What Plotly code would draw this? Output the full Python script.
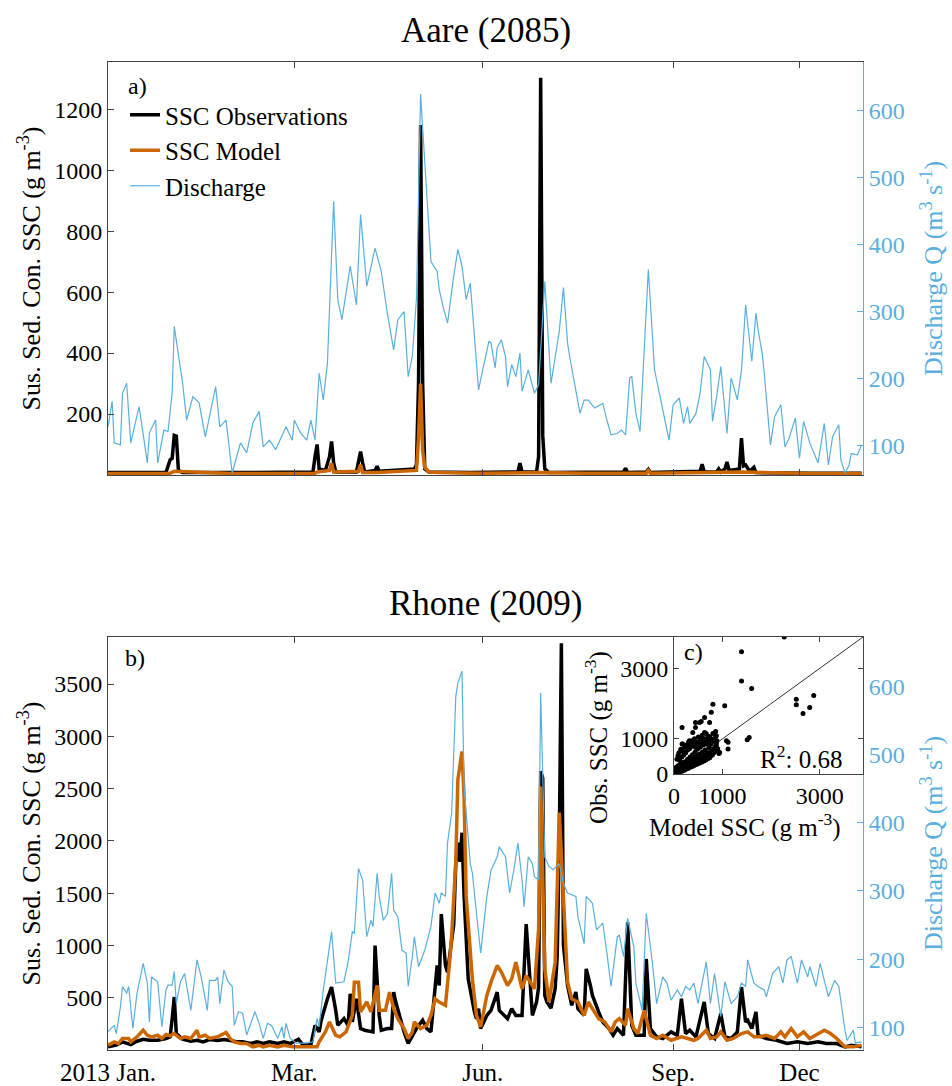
import pandas as pd
import plotly.graph_objects as go

BASE = pd.Timestamp("2013-01-01")

# ---------------- Aare (2085) ----------------
aare_q_day = [0,2,3,6,7,9,11,15,16,19,20,23,24,27,29,31,32,34,36,38,41,44,47,52,54,57,60,64,67,70,73,75,78,81,86,89,90,93,96,98,100,102,104,106,109,111,113,117,120,122,125,129,132,135,138,140,143,145,147,149,151,154,156,159,160,162,164,167,169,171,173,175,177,179,181,184,185,187,188,190,192,193,195,197,199,200,203,206,208,211,214,218,220,222,223,225,228,230,232,235,239,241,243,246,248,250,252,253,255,257,261,264,267,271,273,276,278,280,281,284,286,288,291,292,294,296,299,301,304,306,308,311,313,314,316,317,320,322,325,327,329,332,334,336,339,343,346,348,350,353,354,356,358,359,362,364]
aare_q_val = [128,166,104,101,178,193,104,158,138,74,119,138,74,123,121,179,278,238,194,138,173,164,113,188,128,138,59,104,89,134,151,98,108,94,128,108,138,119,108,138,108,208,168,223,465,318,288,368,310,445,338,395,360,296,243,288,300,203,233,320,625,474,375,360,333,306,283,353,393,368,318,343,268,183,213,256,253,216,246,258,233,188,221,203,238,181,213,178,191,345,193,271,336,253,233,198,148,168,168,156,163,138,116,118,123,116,201,203,148,121,363,213,168,108,161,171,133,158,133,148,178,233,213,136,173,218,118,201,168,213,310,226,298,273,238,208,101,143,161,98,111,141,81,136,104,74,133,71,113,131,79,59,71,88,86,101]

aare_obs_day = [0,28,30,31,32,33,34,36,60,99,100,101,102,105,107,108,109,110,120,121,122,123,124,129,130,131,148,149,150,151,152,153,155,175,198,199,200,207,208,209,210,211,213,249,250,251,260,261,262,286,287,288,294,295,296,298,299,300,305,306,307,308,310,312,313,340,364]
aare_obs_val = [8,8,50,55,130,128,15,8,8,10,60,100,20,15,60,110,40,10,10,40,77,40,10,15,29,12,20,34,300,1148,300,20,10,8,10,39,10,10,60,1303,130,20,8,10,22,8,10,18,8,12,35,10,10,20,10,20,43,15,20,121,30,33,12,25,8,6,6]

aare_mod_day = [0,30,32,60,100,101,107,108,109,121,122,123,130,149,150,151,152,153,155,160,180,209,210,230,260,261,262,306,340,364]
aare_mod_val = [5,6,12,5,6,10,15,39,10,12,34,8,8,15,120,300,80,25,10,8,6,10,8,6,6,15,6,10,5,5]

# ---------------- Rhone (2009) ----------------
rhone_q_day = [0,3,4,6,7,9,10,12,14,17,19,20,21,23,24,26,28,29,31,32,33,35,37,40,43,45,48,49,52,53,54,56,58,60,61,63,65,67,69,71,73,75,77,79,82,84,85,86,88,91,96,99,101,102,104,106,108,110,114,116,118,119,121,123,125,127,128,130,131,133,135,137,138,140,142,144,145,147,148,150,153,156,158,160,161,163,164,166,168,169,171,172,175,176,178,180,183,185,188,189,192,194,196,198,200,201,203,205,206,208,209,211,213,215,218,220,222,226,227,230,231,234,236,239,241,243,246,247,249,251,254,255,258,260,263,265,268,270,272,275,277,279,281,283,285,289,291,293,296,298,301,304,306,308,309,312,314,317,318,321,324,326,328,330,333,335,338,339,342,344,346,348,351,353,356,357,360,361,364]
rhone_q_val = [94,103,91,130,160,150,160,99,150,194,165,108,174,169,167,101,155,162,162,182,135,167,179,125,199,174,125,169,169,174,135,184,167,160,103,123,121,89,106,123,106,84,106,103,84,101,84,106,84,77,77,79,113,101,155,194,240,165,167,196,240,238,333,316,233,257,248,326,292,257,267,326,272,262,213,209,160,204,233,189,213,248,297,282,297,292,370,414,585,604,622,453,340,326,267,209,292,330,350,365,350,297,330,370,316,277,350,340,321,316,590,350,336,331,340,311,297,292,262,223,292,282,243,253,209,160,233,235,204,260,218,165,125,267,194,135,174,165,140,155,145,160,155,165,135,196,135,179,116,167,135,145,165,160,199,165,160,155,145,179,189,165,199,204,165,199,174,189,160,194,169,145,169,160,96,81,96,77,79]

rhone_obs_day = [0,4,7,11,14,17,20,24,28,30,31,32,33,36,40,43,46,49,53,56,59,62,65,69,72,75,78,82,85,88,92,94,98,100,102,103,106,108,110,111,114,116,117,118,120,122,124,127,128,129,131,132,135,137,138,139,141,143,145,147,149,152,154,156,159,160,161,163,164,166,167,168,169,170,171,172,174,177,178,179,180,183,185,188,189,193,195,197,200,202,204,205,207,208,209,210,211,212,214,216,217,218,219,220,222,224,226,227,230,231,233,234,237,239,242,244,246,249,251,253,255,259,260,262,265,268,272,275,277,279,281,284,288,290,293,296,298,301,304,306,308,309,311,313,314,318,323,328,333,338,343,347,352,356,359,364]
rhone_obs_val = [30,46,78,52,84,103,93,93,110,126,300,507,157,103,84,93,78,100,90,100,90,78,78,62,78,62,78,62,78,62,103,52,52,236,173,284,490,602,379,236,300,236,538,268,490,205,189,173,173,998,331,189,205,205,554,459,300,173,62,141,205,284,205,173,808,617,1300,808,745,1046,1200,1792,1983,1800,2078,1474,681,364,300,395,205,331,379,554,379,300,395,331,331,1205,586,331,459,600,2665,2600,522,459,400,586,900,2000,3890,1000,617,427,554,395,331,776,617,522,364,268,205,141,205,141,1221,236,141,141,871,205,126,110,173,141,490,157,189,126,459,157,110,348,126,110,173,602,268,284,205,364,141,110,93,62,78,62,78,62,62,30,46,30]

rhone_mod_day = [0,3,5,7,10,11,14,17,19,21,24,26,28,30,32,35,37,40,43,44,47,49,53,57,59,61,64,67,70,73,75,78,82,85,89,93,98,101,102,105,107,110,112,115,118,119,121,122,125,127,130,131,134,136,138,140,143,145,147,148,151,154,156,158,160,163,165,166,168,169,171,172,173,176,178,180,183,185,188,190,193,195,197,200,202,206,208,209,211,213,216,218,222,224,227,230,232,235,237,240,243,245,247,250,251,254,256,259,262,265,268,272,275,277,280,283,285,289,291,294,296,299,302,306,309,312,315,318,322,325,327,330,333,336,339,343,346,349,352,356,360,364]
rhone_mod_val = [46,78,62,110,110,78,126,189,141,126,141,110,148,135,157,110,126,110,189,126,141,110,126,167,110,78,62,62,30,46,30,46,30,46,30,30,30,30,78,173,268,141,126,173,331,649,649,364,459,364,617,379,379,554,395,300,205,110,173,268,205,236,331,490,459,427,840,1093,1792,2586,2855,2427,1474,681,331,221,522,649,808,745,617,681,840,586,712,586,1157,2520,776,459,840,2270,649,490,459,331,459,364,300,268,173,268,300,236,395,205,157,379,141,110,141,93,110,126,110,93,110,189,110,126,173,93,110,157,173,126,126,141,110,173,126,205,126,173,110,157,189,157,110,30,30,46]

# ---------------- Inset c): observed vs modelled SSC (Rhone) ----------------
scat_model = [20,40,60,80,100,120,30,50,70,90,110,130,150,160,180,200,210,230,250,260,280,300,310,330,350,360,380,400,410,430,450,460,480,500,520,540,560,580,600,620,640,660,680,700,720,750,770,800,820,850,880,900,940,
              60,80,100,140,180,220,260,300,340,380,420,460,500,540,580,620,660,700,740,780,820,860,
              120,160,200,240,280,320,360,400,440,480,520,560,600,640,680,720,760,
              15,25,35,45,55,65,75,85,95,105,115,125,135,145,155,165,175,185,195,215,235,255,275,295,315,335,355,375,395,415,435,455,475,495,515,535,555,575,595,615,635,655,675,695,715,735,755,790,830,870,910,
              166,442,386,629,801,871,732,560,317,490,166,664,1112,871,801,1044,767,629,525,732,442,560,857,857,884,1079,1112,925,178,282,
              1390,1390,1598,2268,2517,2517,2656,2793,2876,1507,1548]
scat_obs = [30,60,40,90,70,150,120,200,160,240,180,260,120,200,300,150,250,350,180,300,420,220,360,480,260,400,550,300,450,620,330,500,700,380,560,760,420,620,820,470,680,880,520,600,750,560,650,700,600,760,650,720,614,
            420,520,600,700,650,760,820,900,850,950,1000,900,1050,980,1100,1000,1150,1080,1050,990,940,880,
            380,480,540,600,680,720,780,820,760,840,880,920,960,900,980,900,860,
            10,80,20,110,90,20,130,50,140,100,60,210,90,250,170,80,220,130,330,110,230,140,260,160,290,190,320,210,350,240,380,270,410,290,440,320,470,340,500,370,530,400,560,430,590,460,510,540,680,790,640,
            1322,1322,1180,1180,1152,1086,1039,1039,945,898,850,850,898,850,1983,1935,1756,1605,1463,1463,1462,1491,1208,1057,943,943,708,585,849,755,
            3473,2643,2425,3890,2125,1963,1717,1887,2227,972,1037]

# ---------------- axis ticks ----------------
month_tick_dates = ["2013-01-01", "2013-04-01", "2013-07-01", "2013-10-01", "2013-12-01"]
month_tick_text = ["2013 Jan.", "Mar.", "Jun.", "Sep.", "Dec"]
aare_ssc_ticks = [200, 400, 600, 800, 1000, 1200]
rhone_ssc_ticks = [500, 1000, 1500, 2000, 2500, 3000, 3500]
q_ticks = [100, 200, 300, 400, 500, 600]
inset_ticks = [0, 1000, 3000]

# ---------------- style ----------------
FONT = "Liberation Serif"
BLACK = "#000000"
ORANGE = "#CC6600"
BLUE = "#5AAFDD"
INSET_LIM = 3890
FS = 24
TS = 26

W, H = 952, 1086
def px_x(p): return p / W
def px_y(p): return 1 - p / H

def dates(days):
    return BASE + pd.to_timedelta(days, unit="D")

fig = go.Figure()

# Panel a
fig.add_trace(go.Scatter(x=dates(aare_obs_day), y=aare_obs_val, mode="lines", name="SSC Observations",
                         line=dict(color=BLACK, width=3.5), xaxis="x", yaxis="y", legendrank=1))
fig.add_trace(go.Scatter(x=dates(aare_mod_day), y=aare_mod_val, mode="lines", name="SSC Model",
                         line=dict(color=ORANGE, width=3.5), xaxis="x", yaxis="y", legendrank=2))
fig.add_trace(go.Scatter(x=dates(aare_q_day), y=aare_q_val, mode="lines", name="Discharge",
                         line=dict(color=BLUE, width=1.2), xaxis="x", yaxis="y2", legendrank=3))
# Panel b
fig.add_trace(go.Scatter(x=dates(rhone_q_day), y=rhone_q_val, mode="lines", showlegend=False,
                         line=dict(color=BLUE, width=1.2), xaxis="x2", yaxis="y4"))
fig.add_trace(go.Scatter(x=dates(rhone_obs_day), y=rhone_obs_val, mode="lines", showlegend=False,
                         line=dict(color=BLACK, width=3.5), xaxis="x2", yaxis="y3"))
fig.add_trace(go.Scatter(x=dates(rhone_mod_day), y=rhone_mod_val, mode="lines", showlegend=False,
                         line=dict(color=ORANGE, width=3.5), xaxis="x2", yaxis="y3"))
# Inset
fig.add_trace(go.Scatter(x=[0, INSET_LIM], y=[0, INSET_LIM], mode="lines", showlegend=False,
                         line=dict(color="#333333", width=1), xaxis="x3", yaxis="y5"))
fig.add_trace(go.Scatter(x=scat_model, y=scat_obs, mode="markers", showlegend=False,
                         marker=dict(color=BLACK, size=5), xaxis="x3", yaxis="y5"))

xdom = [px_x(108), px_x(863)]
xrange_ = [BASE, BASE + pd.Timedelta(days=364.7)]
tickfont = dict(family=FONT, size=FS, color=BLACK)
bluefont = dict(family=FONT, size=FS, color=BLUE)
titlefont = dict(family=FONT, size=TS, color=BLACK)
bluetitlefont = dict(family=FONT, size=TS, color=BLUE)

common_x = dict(type="date", range=xrange_, tickmode="array", tickvals=month_tick_dates,
                ticktext=month_tick_text, ticks="inside", ticklen=6, tickcolor="#444",
                showline=True, linecolor="#444", linewidth=1, mirror="ticks", automargin=False,
                showgrid=False, zeroline=False, tickfont=dict(family=FONT, size=25, color=BLACK), domain=xdom)

left_common = dict(ticks="inside", ticklen=6, tickcolor="#444", showline=True, linecolor="#444",
                   showgrid=False, zeroline=False, tickfont=tickfont, automargin=False)
right_common = dict(side="right", ticks="inside", ticklen=6, tickcolor=BLUE, showline=True, linecolor=BLUE,
                    showgrid=False, zeroline=False, tickfont=bluefont, automargin=False)

fig.update_layout(
    width=W, height=H, margin=dict(l=0, r=0, t=0, b=0, autoexpand=False),
    paper_bgcolor="white", plot_bgcolor="white",
    font=dict(family=FONT, size=FS, color=BLACK),
    xaxis=dict(common_x, anchor="y", showticklabels=False),
    yaxis=dict(left_common, domain=[px_y(475), px_y(62)], range=[0, 1355], tickvals=aare_ssc_ticks,
               title=dict(text="Sus. Sed. Con. SSC (g m<sup>-3</sup>)", font=titlefont, standoff=6)),
    yaxis2=dict(right_common, overlaying="y", anchor="x", range=[56, 673], tickvals=q_ticks,
                title=dict(text="Discharge Q (m<sup>3</sup> s<sup>-1</sup>)", font=bluetitlefont, standoff=20)),
    xaxis2=dict(common_x, anchor="y3", showticklabels=True),
    yaxis3=dict(left_common, domain=[px_y(1050), px_y(637)], anchor="x2", range=[0, 3950],
                tickvals=rhone_ssc_ticks,
                title=dict(text="Sus. Sed. Con. SSC (g m<sup>-3</sup>)", font=titlefont, standoff=6)),
    yaxis4=dict(right_common, overlaying="y3", anchor="x2", range=[67, 672], tickvals=q_ticks,
                title=dict(text="Discharge Q (m<sup>3</sup> s<sup>-1</sup>)", font=bluetitlefont, standoff=20)),
    xaxis3=dict(domain=[px_x(674), px_x(863)], anchor="y5", range=[0, INSET_LIM], tickvals=inset_ticks,
                automargin=False,
                ticks="inside", ticklen=5, tickcolor="#444", showline=True, linecolor="#444", mirror="ticks",
                showgrid=False, zeroline=False, tickfont=tickfont),
    yaxis5=dict(domain=[px_y(774), px_y(637)], anchor="x3", range=[0, INSET_LIM], tickvals=inset_ticks,
                automargin=False,
                ticks="inside", ticklen=5, tickcolor="#444", showline=True, linecolor="#444", mirror="ticks",
                showgrid=False, zeroline=False, tickfont=tickfont),
    legend=dict(x=px_x(125), y=px_y(92), xanchor="left", yanchor="top", bgcolor="rgba(0,0,0,0)",
                font=dict(family=FONT, size=25), tracegroupgap=0, itemwidth=30),
    showlegend=True,
)

# white background for the inset so that panel b lines do not show through
fig.add_shape(type="rect", xref="x3", yref="y5", x0=0, x1=INSET_LIM, y0=0, y1=INSET_LIM,
              fillcolor="white", line=dict(width=0), layer="below")

annos = [
    dict(text="Aare (2085)", x=486, y=30, size=35, angle=0),
    dict(text="Rhone (2009)", x=486, y=603, size=35, angle=0),
    dict(text="a)", x=137, y=86, size=FS, angle=0),
    dict(text="b)", x=135, y=658, size=FS, angle=0),
    dict(text="c)", x=693, y=652, size=FS, angle=0),
    dict(text="R<sup>2</sup>: 0.68", x=801, y=757, size=25, angle=0),
    dict(text="Model SSC (g m<sup>-3</sup>)", x=745, y=826, size=25, angle=0),
    dict(text="Obs. SSC (g m<sup>-3</sup>)", x=596, y=738, size=25, angle=-90),
]
for a in annos:
    fig.add_annotation(text=a["text"], x=px_x(a["x"]), y=px_y(a["y"]), xref="paper", yref="paper",
                       xanchor="center", yanchor="middle", showarrow=False, textangle=a["angle"],
                       font=dict(family=FONT, size=a["size"], color=BLACK))

fig.write_html("out.html")
